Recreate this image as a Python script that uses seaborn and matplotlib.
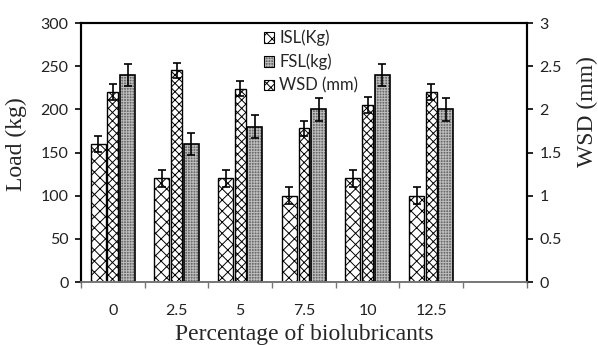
import numpy as np
import pandas as pd
import matplotlib
matplotlib.use("Agg")
import matplotlib.pyplot as plt
from matplotlib.patches import Patch
from matplotlib.legend_handler import HandlerTuple
import seaborn as sns

categories = ["0", "2.5", "5", "7.5", "10", "12.5"]
isl = [160, 120, 120, 100, 120, 100]
isl_err = [9, 10, 10, 10, 10, 10]
fsl = [240, 160, 180, 200, 240, 200]
fsl_err = [13, 13, 13, 13, 13, 13]
wsd = [2.2, 2.45, 2.24, 1.78, 2.05, 2.2]
wsd_err = [0.09, 0.09, 0.09, 0.09, 0.09, 0.09]
left_ticks = [0, 50, 100, 150, 200, 250, 300]
right_ticks = [0, 0.5, 1, 1.5, 2, 2.5, 3]
right_tick_labels = ["0", "0.5", "1", "1.5", "2", "2.5", "3"]

sns.set_theme(style="white")
plt.rcParams["font.family"] = ["Lato", "DejaVu Sans"]
plt.rcParams["hatch.linewidth"] = 0.7

fig = plt.figure(figsize=(5.98, 3.45), dpi=100)
ax = fig.add_axes([0.1355, 0.1826, 0.7455, 0.7507])
ax2 = ax.twinx()

idx = np.arange(len(categories))
w_main = 0.235
w_wsd = 0.17
off = 0.23

df_isl = pd.DataFrame({"x": idx - off, "y": isl})
df_fsl = pd.DataFrame({"x": idx + off, "y": fsl})
df_wsd = pd.DataFrame({"x": idx.astype(float), "y": wsd})

sns.barplot(data=df_isl, x="x", y="y", native_scale=True, width=w_main, ax=ax,
            color="white", edgecolor="black", linewidth=1.0, hatch="xxx", errorbar=None)
# FSL: dark stipple fill, then black outline
sns.barplot(data=df_fsl, x="x", y="y", native_scale=True, width=w_main, ax=ax,
            color="#6a6a6a", edgecolor="#bdbdbd", linewidth=0, hatch="++++++", errorbar=None)
sns.barplot(data=df_fsl, x="x", y="y", native_scale=True, width=w_main, ax=ax,
            fill=False, edgecolor="black", linewidth=1.2, errorbar=None)
sns.barplot(data=df_wsd, x="x", y="y", native_scale=True, width=w_wsd, ax=ax2,
            color="white", edgecolor="black", linewidth=1.0, hatch="xxxx", errorbar=None)

ekw = dict(fmt="none", ecolor="black", elinewidth=1.2, capsize=3.2, capthick=1.2, zorder=5)
ax.errorbar(idx - off, isl, yerr=isl_err, **ekw)
ax.errorbar(idx + off, fsl, yerr=fsl_err, **ekw)
ax2.errorbar(idx.astype(float), wsd, yerr=wsd_err, **ekw)

for a in (ax, ax2):
    a.set_xlim(-0.5, 6.5)
    a.grid(False)

tfs = 11.5
ax.set_ylim(0, 300)
ax2.set_ylim(0, 3)
ax.set_yticks(left_ticks)
ax.set_yticklabels([str(t) for t in left_ticks], fontsize=tfs, color="#222222")
ax2.set_yticks(right_ticks)
ax2.set_yticklabels(right_tick_labels, fontsize=tfs, color="#222222")

ax.set_xticks(np.arange(-0.5, 7.0, 1.0))
ax.set_xticklabels([""] * 8)
ax.set_xticks(idx, minor=True)
ax.set_xticklabels(categories, minor=True, fontsize=tfs, color="#222222")
ax.tick_params(axis="x", which="major", direction="out", length=4, width=1, color="#777777", bottom=True)
ax.tick_params(axis="x", which="minor", length=0, pad=16)
ax.tick_params(axis="y", direction="out", length=4, width=1.2, color="black", left=True, pad=5)
ax2.tick_params(axis="y", direction="out", length=4, width=1.2, color="black", right=True, pad=5)

for s in ("left", "right", "top"):
    for a in (ax, ax2):
        a.spines[s].set_color("black")
        a.spines[s].set_linewidth(1.5)
ax.spines["bottom"].set_color("#777777")
ax2.spines["bottom"].set_color("#777777")

serif = ["Liberation Serif", "DejaVu Serif"]
ax.set_xlabel("Percentage of biolubricants", fontsize=17, family=serif, labelpad=4)
ax.set_ylabel("Load (kg)", fontsize=17, family=serif)
ax2.set_ylabel("WSD (mm)", fontsize=17, family=serif)
ax.yaxis.set_label_coords(-0.122, 0.533)
ax2.yaxis.set_label_coords(1.113, 0.66)

fsl_handle = (Patch(facecolor="#6a6a6a", edgecolor="#bdbdbd", hatch="++++++", linewidth=0),
              Patch(fill=False, edgecolor="black", linewidth=0.8))
handles = [
    Patch(facecolor="white", edgecolor="black", hatch="xxx", linewidth=0.8),
    fsl_handle,
    Patch(facecolor="white", edgecolor="black", hatch="xxxx", linewidth=0.8),
]
leg = ax.legend(handles, ["ISL(Kg)", "FSL(kg)", "WSD (mm)"], loc="upper left",
                bbox_to_anchor=(0.39, 1.01), frameon=False, fontsize=12,
                handlelength=0.6, handleheight=0.6, handletextpad=0.3,
                labelspacing=0.45, borderaxespad=0.15,
                handler_map={tuple: HandlerTuple(ndivide=1, pad=0)})
leg.set_zorder(10)

fig.savefig("out.png", dpi=100)
